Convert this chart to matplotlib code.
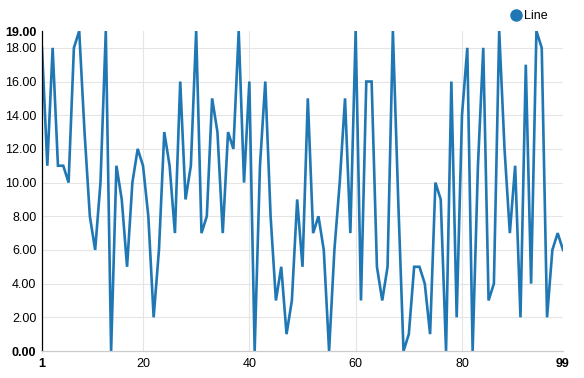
import numpy as np
import matplotlib
matplotlib.use('Agg')
import matplotlib.pyplot as plt
from matplotlib.lines import Line2D

plt.rcParams['font.family'] = ['Liberation Sans', 'DejaVu Sans']

x_vals = list(range(1, 100))
y_vals = [18, 11, 18, 11, 11, 10, 18, 19, 13, 8,
          6, 10, 19, 0, 11, 9, 5, 10, 12, 11,
          8, 2, 6, 13, 11, 7, 16, 9, 11, 19,
          7, 8, 15, 13, 7, 13, 12, 19, 10, 16,
          0, 11, 16, 8, 3, 5, 1, 3, 9, 5,
          15, 7, 8, 6, 0, 6, 10, 15, 7, 19,
          3, 16, 16, 5, 3, 5, 19, 9, 0, 1,
          5, 5, 4, 1, 10, 9, 0, 16, 2, 14,
          18, 0, 11, 18, 3, 4, 19, 12, 7, 11,
          2, 17, 4, 19, 18, 2, 6, 7, 6]
series_name = 'Line'
x_ticks = [1, 20, 40, 60, 80, 99]
y_ticks = [0, 2, 4, 6, 8, 10, 12, 14, 16, 18, 19]

blue = '#1f77b4'
W, H = 584, 378
fig = plt.figure(figsize=(W / 100, H / 100), dpi=100)
ax = fig.add_axes([42 / W, 27 / H, 521 / W, 320 / H])

ax.plot(x_vals, y_vals, color=blue, linewidth=1.9, solid_joinstyle='miter')
ax.set_xlim(1, 99)
ax.set_ylim(0, 19)

ax.set_xticks(x_ticks)
ax.set_xticklabels([str(t) for t in x_ticks])
ax.set_yticks(y_ticks)
ax.set_yticklabels(['%.2f' % t for t in y_ticks])
ax.tick_params(length=0, labelsize=9, colors='#000000', pad=4)
ax.tick_params(axis='x', pad=5)

for lbl in [ax.get_xticklabels()[0], ax.get_xticklabels()[-1],
            ax.get_yticklabels()[0], ax.get_yticklabels()[-1]]:
    lbl.set_fontweight('bold')

for t in x_ticks[1:-1]:
    ax.axvline(t, color='#e5e5e5', linewidth=0.8, zorder=0)
for t in y_ticks[1:-1]:
    ax.axhline(t, color='#e5e5e5', linewidth=0.8, zorder=0)

for s in ['top', 'right']:
    ax.spines[s].set_visible(False)
ax.spines['left'].set_color('#000000')
ax.spines['left'].set_linewidth(0.9)
ax.spines['bottom'].set_color('#cccccc')
ax.spines['bottom'].set_linewidth(0.9)

handle = Line2D([], [], marker='o', color=blue, linestyle='none', markersize=8)
fig.legend([handle], [series_name], loc='center left',
           bbox_to_anchor=(503 / W, 1 - 16 / H), frameon=False,
           handlelength=1, handletextpad=0.2, borderpad=0, fontsize=9)

fig.savefig('out.png', dpi=100)
